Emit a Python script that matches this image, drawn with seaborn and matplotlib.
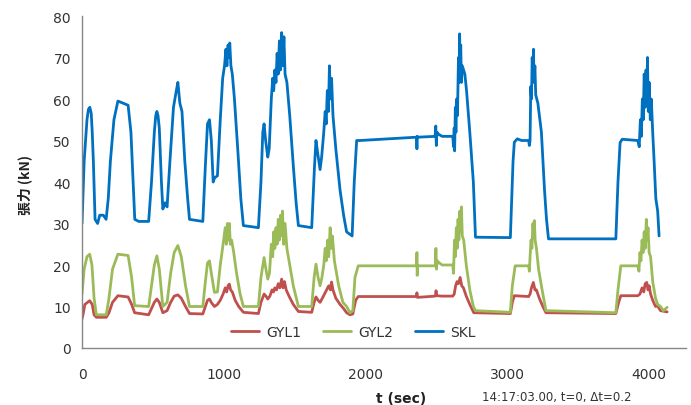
import pandas as pd
import matplotlib
matplotlib.use("Agg")
import matplotlib.pyplot as plt
import seaborn as sns

sns.set_theme(style="white")
plt.rcParams['font.family'] = ['DejaVu Sans', 'Noto Sans CJK TC']

# 張力データ (t [sec], kN) - 図から読み取り
skl_t = [0, 15, 35, 45, 55, 65, 72, 80, 92, 110, 125, 150, 170, 185, 200, 225, 253, 290, 325, 345, 360, 372,
         400, 470, 490, 510, 520, 528, 536, 545, 560, 570, 585, 600, 620, 645, 665, 676, 690, 705, 725, 745, 758,
         852, 870, 885, 899, 912, 925, 935, 955, 975, 992, 1005, 1015, 1022, 1030, 1037, 1042, 1050,
         1060, 1075, 1100, 1120, 1138, 1244, 1262, 1275, 1284, 1295, 1310, 1320, 1335, 1345, 1352,
         1360, 1368, 1376, 1384, 1392, 1400, 1408, 1416, 1424, 1432, 1445, 1465, 1490, 1510, 1526,
         1620, 1640, 1650, 1662, 1679, 1690, 1705, 1715, 1722, 1730, 1738, 1745, 1752, 1760, 1770,
         1790, 1820, 1845, 1866, 1905, 1920, 1937, 1960, 2360, 2362, 2364, 2368, 2490, 2495, 2499,
         2503, 2515, 2540, 2615, 2620, 2625, 2628, 2633, 2637, 2642, 2648, 2655, 2660, 2663, 2667,
         2671, 2676, 2682, 2700, 2712, 2735, 2760, 2775, 3021, 3030, 3040, 3049, 3070, 3100, 3150,
         3155, 3160, 3165, 3170, 3175, 3180, 3184, 3188, 3194, 3200, 3215, 3240, 3262, 3276, 3290,
         3765, 3780, 3795, 3810, 3920, 3930, 3938, 3945, 3952, 3958, 3965, 3972, 3978, 3984, 3988,
         3994, 4000, 4008, 4015, 4025, 4035, 4047, 4060, 4070]
skl_v = [30, 45, 55, 57.5, 58, 56.5, 52, 45, 31, 30, 32, 32, 31, 36, 45, 55, 59.5, 59, 58.5, 52, 40, 31,
         30.5, 30.5, 40, 52, 56, 57, 56, 53, 40, 33.5, 35, 34, 45, 58, 62, 64, 59, 57, 45, 36, 31,
         30.5, 44, 54, 55, 50, 40, 41, 41.5, 55, 65, 68, 72, 68, 73, 70, 73.5, 68,
         66, 60, 47, 36, 29.5, 29, 40, 52, 54, 50, 46, 48, 60, 65, 62,
         67, 64, 71, 66, 74, 67, 76, 68, 75, 66, 64, 56, 44, 35, 29.5,
         29, 44, 50, 47, 43, 46, 52, 57, 54, 62, 57, 68, 60, 65, 56,
         48, 38, 32, 28, 27, 40, 50, 50, 50.8, 48, 51, 50.8, 51, 53.5, 48.8,
         52, 51.5, 51, 51, 48.5, 53, 47.5, 58, 52, 60, 56, 70, 64, 75.7, 68,
         73, 64, 68, 66, 62, 52, 40, 26.7, 26.6, 35, 45, 49.6, 50.4, 50, 50,
         48.8, 50, 63, 60, 70, 66, 72, 64, 68, 61, 59, 52, 38, 31, 26.3,
         26.3, 40, 49.5, 50.3, 50, 48.5, 55, 51, 60, 55, 66, 58, 67, 60, 70,
         57, 64, 55, 60, 52, 45, 36, 33, 27]

gyl2_t = [0, 15, 35, 54, 70, 85, 101, 171, 190, 215, 253, 325, 350, 371, 470, 490, 510, 528, 545,
          570, 585, 600, 625, 650, 676, 700, 730, 758, 852, 870, 885, 899, 912, 934, 955, 975, 995,
          1010, 1018, 1025, 1032, 1039, 1046, 1055, 1070, 1090, 1115, 1138, 1244, 1262, 1284, 1297,
          1310, 1322, 1335, 1345, 1352, 1360, 1368, 1376, 1384, 1392, 1400, 1408, 1414, 1422, 1432,
          1445, 1465, 1490, 1526, 1620, 1637, 1650, 1665, 1679, 1692, 1705, 1715, 1722, 1732, 1740,
          1750, 1758, 1766, 1780, 1810, 1840, 1866, 1890, 1910, 1925, 1948, 2360, 2362, 2364, 2367,
          2492, 2496, 2500, 2505, 2520, 2540, 2615, 2620, 2627, 2633, 2640, 2646, 2652, 2658, 2665,
          2670, 2676, 2682, 2692, 2710, 2735, 2760, 2775, 3021, 3035, 3055, 3150, 3155, 3160, 3167,
          3173, 3180, 3186, 3190, 3196, 3205, 3220, 3245, 3272, 3765, 3780, 3800, 3920, 3928, 3935,
          3942, 3950, 3957, 3965, 3972, 3980, 3986, 3992, 4000, 4010, 4025, 4045, 4060, 4080, 4100,
          4127]
gyl2_v = [13, 19, 22, 22.6, 20, 12, 8, 8, 12, 19, 22.6, 22.3, 17, 10.2, 10, 15, 20, 22.2, 19,
          10, 10.5, 11, 18, 23, 24.7, 22, 15, 10, 10, 16, 20.5, 21, 18, 13.4, 13.5, 20, 25,
          29, 25, 30, 26, 30, 25, 26, 23, 18, 13, 10, 10, 17, 21.8, 19,
          16.6, 18, 25, 22, 28, 24, 29, 25, 31, 26, 32, 27, 33, 25, 30,
          24, 20, 15, 10, 10, 17, 20.2, 17, 15, 17, 20, 24, 21, 26, 22,
          29, 24, 27, 21, 15, 11, 10, 8.5, 9, 17, 19.8, 19.8, 23, 17.5, 19.8,
          19.8, 24, 19, 21, 20.5, 20, 20, 18, 26, 22, 29, 24, 31, 26, 33,
          28, 34, 27, 26, 20, 14, 10, 9, 8.6, 15, 19.8, 19.8, 18.5, 22, 26,
          24, 30, 27, 30.7, 26, 24, 19, 14, 9, 8.5, 14, 19.8, 19.8, 18.5, 23,
          21, 26, 23, 28, 24, 31, 26, 29, 23, 22, 16, 12, 10.5, 10, 9,
          9.8]

gyl1_t = [0, 8, 20, 54, 72, 85, 101, 171, 190, 215, 253, 325, 350, 371, 470, 490, 510, 528, 545,
          570, 600, 625, 650, 676, 700, 730, 758, 852, 870, 885, 899, 915, 934, 955, 975, 995, 1010,
          1020, 1030, 1039, 1048, 1060, 1080, 1105, 1138, 1244, 1262, 1284, 1297, 1310, 1325, 1340,
          1350, 1360, 1372, 1384, 1395, 1408, 1418, 1428, 1440, 1460, 1490, 1526, 1620, 1637, 1650,
          1665, 1679, 1695, 1710, 1725, 1740, 1752, 1760, 1770, 1790, 1820, 1845, 1866, 1890, 1910,
          1930, 1948, 2360, 2362, 2365, 2492, 2497, 2502, 2540, 2615, 2625, 2635, 2645, 2655, 2667,
          2678, 2690, 2710, 2735, 2763, 3021, 3035, 3049, 3150, 3160, 3170, 3183, 3195, 3205, 3225,
          3250, 3272, 3765, 3785, 3800, 3920, 3935, 3950, 3962, 3972, 3983, 3992, 4000, 4010, 4025,
          4045, 4058, 4080, 4127]
gyl1_v = [7, 8.2, 10.5, 11.4, 10.5, 8, 7.4, 7.4, 8.5, 11, 12.6, 12.3, 10.5, 8.5, 8, 9.5, 11, 11.8, 11,
          8.5, 9, 11, 12.5, 12.8, 12, 10, 8.3, 8.2, 10, 11.5, 11.8, 10.8, 10, 10.5, 11.5, 13, 14.5,
          13.5, 15, 15.4, 14, 13.5, 11.5, 10, 8.6, 8.3, 11, 13, 12.5, 11.8, 12.5, 14,
          13.5, 14.5, 14, 15.5, 14.5, 16.6, 14.5, 16, 14, 12.5, 10.5, 8.8, 8.6, 11, 12.3,
          11.5, 11, 12, 13, 14, 15, 14, 15.9, 14, 12, 10.5, 9.5, 8.5, 8, 8.2,
          11.5, 12.4, 12.4, 13.3, 12.2, 12.5, 13.8, 12.6, 12.5, 12.5, 13, 15, 16, 15.5, 17,
          15, 14.5, 12.5, 10.5, 8.5, 8.3, 11, 12.6, 12.4, 13, 14.5, 15.8, 14, 14, 12,
          10, 8.5, 8.3, 11, 12.6, 12.6, 13, 14.5, 13.5, 15.5, 15.8, 14, 15, 13, 11.5,
          10, 10.2, 9, 8.7]

series_names = ["GYL1", "GYL2", "SKL"]
colors = {"GYL1": "#C0504D", "GYL2": "#9BBB59", "SKL": "#0070C0"}

df = pd.concat([
    pd.DataFrame({"t": gyl1_t, "v": gyl1_v, "series": "GYL1"}),
    pd.DataFrame({"t": gyl2_t, "v": gyl2_v, "series": "GYL2"}),
    pd.DataFrame({"t": skl_t, "v": skl_v, "series": "SKL"}),
], ignore_index=True)

fig = plt.figure(figsize=(6.91, 4.06), dpi=100)
ax = fig.add_axes([0.1187, 0.1404, 0.8741, 0.8177])

sns.lineplot(data=df, x="t", y="v", hue="series", hue_order=series_names, palette=colors,
             estimator=None, sort=False, linewidth=2.0, ax=ax)

ax.set_xlim(0, 4260)
ax.set_ylim(0, 80)
ax.set_xticks([0, 1000, 2000, 3000, 4000])
ax.set_yticks(range(0, 81, 10))

for s in ["top", "right"]:
    ax.spines[s].set_visible(False)
for s in ["left", "bottom"]:
    ax.spines[s].set_color("#868686")
    ax.spines[s].set_linewidth(1.0)

ax.tick_params(axis="both", colors="#868686", labelcolor="#333333", labelsize=10,
               length=5, width=1.0, direction="out")
ax.tick_params(axis="x", pad=9)
ax.tick_params(axis="y", pad=3)

ax.set_xlabel("")
ax.set_ylabel("張力 (kN)", fontsize=10, fontweight="bold", color="#222222",
              family=["Noto Sans CJK TC", "DejaVu Sans"])
ax.yaxis.set_label_coords(-0.083, 0.494)

leg = ax.legend(loc="center", bbox_to_anchor=(0.449, 0.048), ncol=3, frameon=False,
                fontsize=10, handlelength=2.0, handletextpad=0.5, columnspacing=1.6)
for line in leg.get_lines():
    line.set_linewidth(2.0)
for txt in leg.get_texts():
    txt.set_color("#333333")

fig.text(401 / 691, 1 - 399 / 406, "t (sec)", ha="center", va="center",
         fontsize=10, fontweight="bold", color="#222222")
fig.text(557 / 691, 1 - 398 / 406, "14:17:03.00, t=0, \u0394t=0.2", ha="center", va="center",
         fontsize=8.5, color="#333333")

fig.savefig("out.png", dpi=100)
